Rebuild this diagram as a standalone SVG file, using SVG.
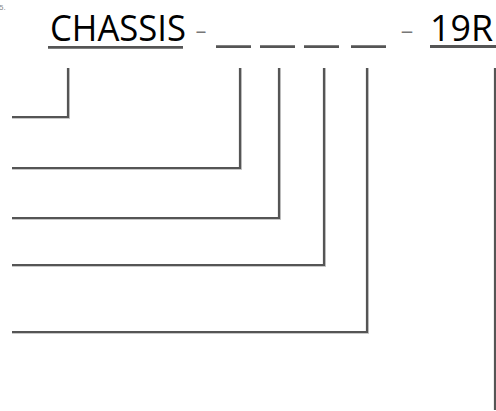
<svg xmlns="http://www.w3.org/2000/svg" width="496" height="411" viewBox="0 0 496 411">
<style>
.big{font-family:"Open Sans","Noto Sans","Liberation Sans",sans-serif;font-size:36px;fill:#000}
.dash{font-family:"Open Sans","Liberation Sans",sans-serif;font-size:22px;fill:#777}
.note{font-family:"Liberation Sans",sans-serif;font-size:8px;fill:#888}
.ul{stroke:#555;stroke-width:2.8;fill:none}
.sh{stroke:#c8c8c8;stroke-width:2;fill:none}
.ln{stroke:#555;stroke-width:2.2;fill:none}
</style>
<rect width="496" height="411" fill="#fff"/>
<text class="note" x="-1" y="10">5.</text>
<g id="title">
<text class="big" x="50" y="40.5" textLength="136" lengthAdjust="spacingAndGlyphs">CHASSIS</text>
<line class="ul" x1="48" y1="47.3" x2="183" y2="47.3"/>
<text class="dash" x="195" y="38" textLength="12" lengthAdjust="spacingAndGlyphs">-</text>
<line class="ul" x1="216" y1="46.7" x2="251" y2="46.7"/>
<line class="ul" x1="260" y1="46.7" x2="295" y2="46.7"/>
<line class="ul" x1="304" y1="46.7" x2="339" y2="46.7"/>
<line class="ul" x1="351" y1="46.7" x2="386" y2="46.7"/>
<text class="dash" x="400" y="38" textLength="14" lengthAdjust="spacingAndGlyphs">-</text>
<text class="big" x="430" y="40.5" textLength="63" lengthAdjust="spacingAndGlyphs">19R</text>
<line class="ul" x1="430" y1="46.5" x2="496" y2="46.5"/>
</g>
<g id="connectors">
<path class="sh" d="M12 118 H69 V68"/>
<path class="sh" d="M12 169 H241 V68"/>
<path class="sh" d="M12 219 H280 V68"/>
<path class="sh" d="M12 266 H325 V68"/>
<path class="sh" d="M12 333 H368 V68"/>
<path class="ln" d="M12 117 H68 V68"/>
<path class="ln" d="M12 168 H240 V68"/>
<path class="ln" d="M12 218 H279 V68"/>
<path class="ln" d="M12 265 H324 V68"/>
<path class="ln" d="M12 332 H367 V68"/>
<path class="ln" d="M495 68 V410"/>
</g>
</svg>
